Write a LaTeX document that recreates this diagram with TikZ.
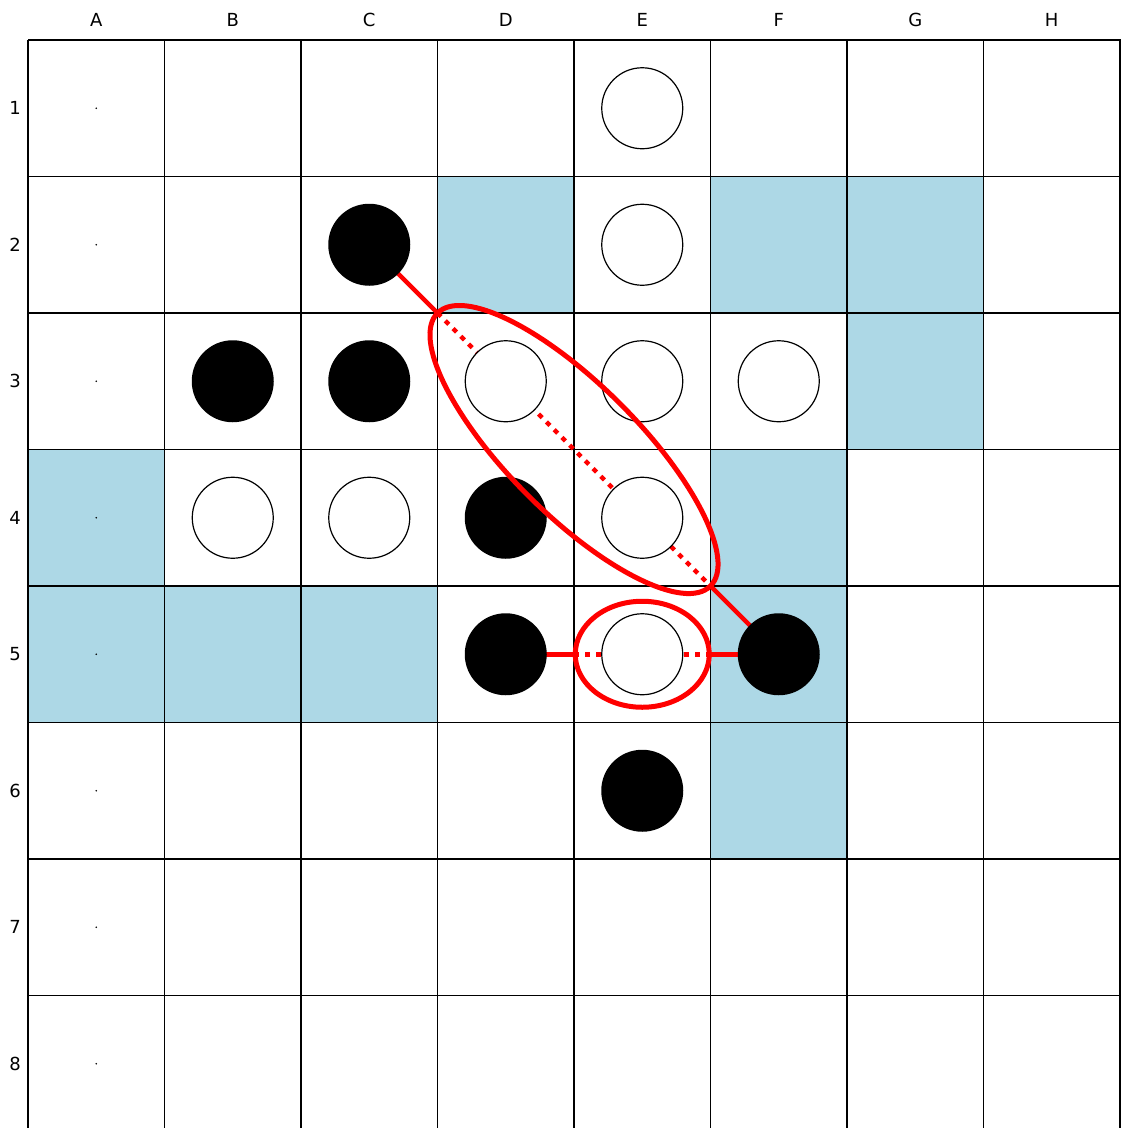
\documentclass[tikz,border=0pt]{standalone}
\usepackage{fontspec}
\setmainfont{DejaVu Sans}
\definecolor{lightblue}{HTML}{ADD8E6}
\definecolor{markred}{HTML}{FF0000}
\pgfdeclarelayer{bg}
\pgfdeclarelayer{lines}
\pgfdeclarelayer{top}
\pgfsetlayers{bg,lines,main,top}
\newcommand\gcx[1]{28+136.5*(#1-0.5)}
\newcommand\gcy[1]{40+136.5*(#1-0.5)}
\begin{document}
\begin{tikzpicture}[x=1pt,y=-1pt,
  blue cell/.style={fill=lightblue},
  gridline/.style={draw=black,line width=1.3pt},
  lbl/.style={font=\fontsize{18}{21}\selectfont,inner sep=0pt},
  blk/.style={circle,fill=black,inner sep=0pt,minimum size=82pt},
  wht/.style={circle,fill=white,draw=black,line width=1.2pt,inner sep=0pt,minimum size=81pt},
  redsolid/.style={draw=markred,line width=4.5pt},
  reddot/.style={draw=markred,line width=4.5pt,dash pattern=on 5pt off 6pt},
  redring/.style={draw=markred,line width=5pt},
  tinydot/.style={circle,fill=black,inner sep=0pt,minimum size=1.6pt}]
\useasboundingbox (0,0) rectangle (1120,1128);
% highlighted cells
\begin{pgfonlayer}{bg}
\fill[white] (0,0) rectangle (1120,1128);
\foreach \c/\r in {4/2,6/2,7/2,7/3,1/4,6/4,1/5,2/5,3/5,6/5,6/6}
  \fill[blue cell] ({28+136.5*(\c-1)},{40+136.5*(\r-1)}) rectangle ++(136.5,136.5);
\foreach \i in {0,...,8}
  \draw[gridline] ({28+136.5*\i},40) -- ({28+136.5*\i},1135);
\foreach \j in {0,...,7}
  \draw[gridline] (28,{40+136.5*\j}) -- (1122,{40+136.5*\j});
\end{pgfonlayer}
% labels
\foreach \L [count=\k] in {A,B,C,D,E,F,G,H}
  \node[lbl] (col\L) at ({\gcx{\k}},20) {\L};
\foreach \k in {1,...,8}
  \node[lbl] (row\k) at (15,{\gcy{\k}}) {\k};
\foreach \k in {1,...,8}
  \node[tinydot] (dot\k) at ({\gcx{1}},{\gcy{\k}}) {};
% stones
\node[wht] (E1) at ({\gcx{5}},{\gcy{1}}) {};
\node[blk] (C2) at ({\gcx{3}},{\gcy{2}}) {};
\node[wht] (E2) at ({\gcx{5}},{\gcy{2}}) {};
\node[blk] (B3) at ({\gcx{2}},{\gcy{3}}) {};
\node[blk] (C3) at ({\gcx{3}},{\gcy{3}}) {};
\node[wht] (D3) at ({\gcx{4}},{\gcy{3}}) {};
\node[wht] (E3) at ({\gcx{5}},{\gcy{3}}) {};
\node[wht] (F3) at ({\gcx{6}},{\gcy{3}}) {};
\node[wht] (B4) at ({\gcx{2}},{\gcy{4}}) {};
\node[wht] (C4) at ({\gcx{3}},{\gcy{4}}) {};
\node[blk] (D4) at ({\gcx{4}},{\gcy{4}}) {};
\node[wht] (E4) at ({\gcx{5}},{\gcy{4}}) {};
\node[blk] (D5) at ({\gcx{4}},{\gcy{5}}) {};
\node[wht] (E5) at ({\gcx{5}},{\gcy{5}}) {};
\node[blk] (F5) at ({\gcx{6}},{\gcy{5}}) {};
\node[blk] (E6) at ({\gcx{5}},{\gcy{6}}) {};
% corner points of the marked lines
\coordinate (k1) at (437.5,313);
\coordinate (k2) at (710.5,586);
\coordinate (h1) at (574,{\gcy{5}});
\coordinate (h2) at (710.5,{\gcy{5}});
\begin{pgfonlayer}{lines}
\draw[redsolid] (C2.center) -- (k1);
\draw[reddot] (k1) -- (k2);
\draw[redsolid] (k2) -- (F5.center);
\draw[redsolid] (D5.center) -- (h1);
\draw[reddot] (h1) -- (h2);
\draw[redsolid] (h2) -- (F5.center);
\end{pgfonlayer}
\begin{pgfonlayer}{top}
\draw[redring] (574,449.5) ellipse [x radius=193, y radius=65, rotate=-45];
\draw[redring] ({\gcx{5}},{\gcy{5}}) ellipse [x radius=67, y radius=53];
\end{pgfonlayer}
\end{tikzpicture}
\end{document}
